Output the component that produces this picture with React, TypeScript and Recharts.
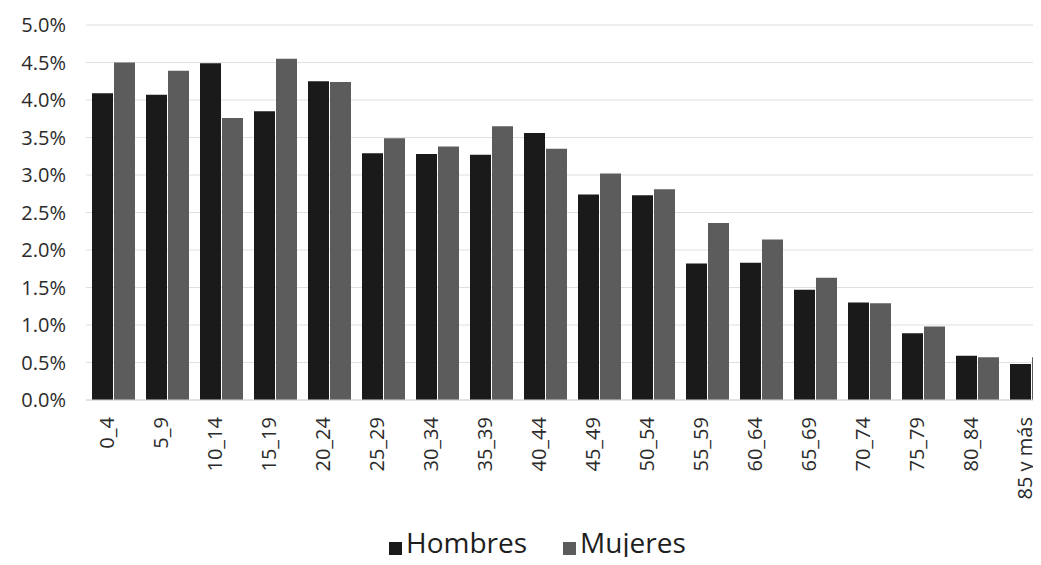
import { BarChart, Bar, XAxis, YAxis, CartesianGrid, Legend } from 'recharts';

const AGE_GROUPS = ['0_4', '5_9', '10_14', '15_19', '20_24', '25_29', '30_34', '35_39', '40_44', '45_49', '50_54', '55_59', '60_64', '65_69', '70_74', '75_79', '80_84', '85 y más'];
const HOMBRES = [4.09, 4.07, 4.49, 3.85, 4.25, 3.29, 3.28, 3.27, 3.56, 2.74, 2.73, 1.82, 1.83, 1.47, 1.30, 0.89, 0.59, 0.48];
const MUJERES = [4.50, 4.39, 3.76, 4.55, 4.24, 3.49, 3.38, 3.65, 3.35, 3.02, 2.81, 2.36, 2.14, 1.63, 1.29, 0.98, 0.57, 0.57];
const Y_TICKS = [0, 0.5, 1, 1.5, 2, 2.5, 3, 3.5, 4, 4.5, 5];

const data = AGE_GROUPS.map((g, i) => ({ group: g, Hombres: HOMBRES[i], Mujeres: MUJERES[i] }));

// rotated category labels, read bottom to top
function AgeTick({ x, y, payload }: any) {
  return (
    <g transform={`translate(${x},${y})`}>
      <text x={0} y={0} dy="0.05em" textAnchor="end" transform="rotate(-90)" fill="#2b2b2b" fontSize={20}>
        {payload.value}
      </text>
    </g>
  );
}

export default function App() {
  return (
    <div style={{ margin: -8, width: 1041, height: 565, overflow: 'hidden', background: '#fff', fontFamily: '"Open Sans", sans-serif' }}>
      <BarChart width={1058} height={565} data={data} margin={{ top: 25, right: 0, left: 0, bottom: 0 }} barSize={21} barGap={1}>
        <CartesianGrid vertical={false} stroke="#e0e0e0" />
        <XAxis dataKey="group" interval={0} tick={<AgeTick />} tickLine={false} axisLine={{ stroke: '#d6d6d6' }} tickSize={0} tickMargin={17} height={125} />
        <YAxis width={86} domain={[0, 5]} ticks={Y_TICKS} tickFormatter={(v: number) => `${v.toFixed(1)}%`}
          tick={{ fill: '#2b2b2b', fontSize: 20 }} axisLine={false} tickLine={false} tickSize={0} tickMargin={20} />
        <Legend verticalAlign="bottom" align="left" iconType="square" iconSize={13}
          wrapperStyle={{ height: 40, top: 523, left: 389, width: 420 }}
          formatter={(value: string) => <span style={{ color: '#1e1e1e', fontSize: 28, marginRight: 26 }}>{value}</span>} />
        <Bar dataKey="Hombres" fill="#1a1a1a" isAnimationActive={false} />
        <Bar dataKey="Mujeres" fill="#5c5c5c" isAnimationActive={false} />
      </BarChart>
    </div>
  );
}
